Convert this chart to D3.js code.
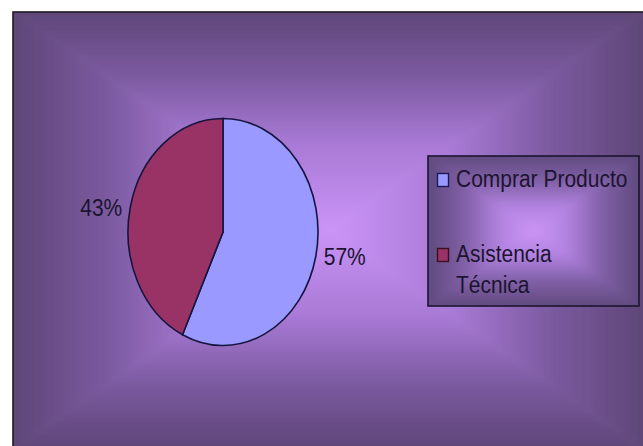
<!DOCTYPE html>
<html>
<head>
<meta charset="utf-8">
<script src="https://cdn.jsdelivr.net/npm/d3@7/dist/d3.min.js"></script>
<style>
  html, body { margin: 0; padding: 0; background: #ffffff; }
  svg { display: block; }
  text { font-family: "Liberation Sans", Arial, sans-serif; fill: #1c1430; }
</style>
</head>
<body>
<svg id="chart" width="643" height="446"></svg>
<script>
// Share of requests by type
const categories = ["Comprar Producto", "Asistencia Técnica"];
const values = [57, 43];
const colors = ["#9999ff", "#993366"];
const outlineColors = ["#1a1a5a", "#3a1020"];

const W = 643, H = 446;
const svg = d3.select("#chart");
const defs = svg.append("defs");

// Rectangular "from centre" gradient: four triangles, each shaded from its edge to the middle
function rectGradient(g, id, x0, y0, x1, y1, stops) {
  const cx = (x0 + x1) / 2, cy = (y0 + y1) / 2;
  const sides = [
    { name: "t", pts: [[x0, y0], [x1, y0], [cx, cy]], from: [cx, y0], to: [cx, cy] },
    { name: "b", pts: [[x0, y1], [x1, y1], [cx, cy]], from: [cx, y1], to: [cx, cy] },
    { name: "l", pts: [[x0, y0], [x0, y1], [cx, cy]], from: [x0, cy], to: [cx, cy] },
    { name: "r", pts: [[x1, y0], [x1, y1], [cx, cy]], from: [x1, cy], to: [cx, cy] }
  ];
  sides.forEach(s => {
    const lg = defs.append("linearGradient")
      .attr("id", id + s.name)
      .attr("gradientUnits", "userSpaceOnUse")
      .attr("x1", s.from[0]).attr("y1", s.from[1])
      .attr("x2", s.to[0]).attr("y2", s.to[1]);
    stops.forEach(st => lg.append("stop").attr("offset", st[0]).attr("stop-color", st[1]));
    g.append("path")
      .attr("d", d3.line()(s.pts) + "Z")
      .attr("fill", `url(#${id + s.name})`)
      .attr("stroke", `url(#${id + s.name})`)
      .attr("stroke-width", 0.6);
  });
}

const soft = defs.append("filter").attr("id", "soft")
  .attr("x", "-5%").attr("y", "-5%").attr("width", "110%").attr("height", "110%");
soft.append("feGaussianBlur").attr("stdDeviation", 3);

// Chart area, clipped so the blur does not spill past its border
const area = { x0: 13, y0: 12, x1: 645, y1: 448 };
defs.append("clipPath").attr("id", "areaClip")
  .append("rect").attr("x", area.x0).attr("y", area.y0)
  .attr("width", area.x1 - area.x0).attr("height", area.y1 - area.y0);
const bg = svg.append("g").attr("clip-path", "url(#areaClip)")
  .append("g").attr("filter", "url(#soft)");
rectGradient(bg, "bgGrad", area.x0 - 6, area.y0 - 6, area.x1 + 6, area.y1 + 6, [
  [0, "#5c4575"], [0.3, "#7a599e"], [0.62, "#a97ad6"], [1, "#ca94f7"]
]);
svg.append("rect")
  .attr("x", area.x0).attr("y", area.y0)
  .attr("width", area.x1 - area.x0).attr("height", area.y1 - area.y0)
  .attr("fill", "none").attr("stroke", "#1e1a24").attr("stroke-width", 1.6);

// Pie (elliptical)
const cx = 223, cy = 232, rx = 95, ry = 113.5;
const pie = d3.pie().sort(null).value(d => d)(values);
const arc = d3.arc().innerRadius(0).outerRadius(rx);
const pieG = svg.append("g")
  .attr("transform", `translate(${cx},${cy}) scale(1,${ry / rx})`);
pieG.selectAll("path.slice")
  .data(pie)
  .join("path")
  .attr("class", "slice")
  .attr("d", arc)
  .attr("fill", (d, i) => colors[i])
  .attr("stroke", "#151540")
  .attr("stroke-width", 1.6)
  .attr("vector-effect", "non-scaling-stroke");

// Percentage labels outside each slice
const fontSize = 21, stretch = 1.15;
const total = d3.sum(values);
svg.selectAll("text.pct")
  .data(pie)
  .join("text")
  .attr("class", "pct")
  .attr("font-size", fontSize)
  .attr("text-anchor", d => Math.sin((d.startAngle + d.endAngle) / 2) >= 0 ? "start" : "end")
  .attr("transform", d => {
    const a = (d.startAngle + d.endAngle) / 2;
    const px = cx + rx * Math.sin(a) + (Math.sin(a) >= 0 ? 8 : -8);
    const py = cy - ry * Math.cos(a) + 0.36 * fontSize * stretch;
    return `translate(${px},${py}) scale(1,${stretch})`;
  })
  .text(d => Math.round(d.value / total * 100) + "%");

// Legend
const lg = { x0: 428, y0: 156, x1: 639, y1: 306 };
defs.append("clipPath").attr("id", "legClip")
  .append("rect").attr("x", lg.x0).attr("y", lg.y0)
  .attr("width", lg.x1 - lg.x0).attr("height", lg.y1 - lg.y0);
const legG = svg.append("g").attr("clip-path", "url(#legClip)")
  .append("g").attr("filter", "url(#soft)");
rectGradient(legG, "legGrad", lg.x0 - 4, lg.y0 - 4, lg.x1 + 4, lg.y1 + 4, [
  [0, "#5c4879"], [0.35, "#7e5ea4"], [0.7, "#b283e0"], [1, "#cc95f6"]
]);
svg.append("rect")
  .attr("x", lg.x0).attr("y", lg.y0)
  .attr("width", lg.x1 - lg.x0).attr("height", lg.y1 - lg.y0)
  .attr("fill", "none").attr("stroke", "#1c1430").attr("stroke-width", 1.6);

// Legend entries, wrapped to the legend's text width
const textX = 456, maxW = 173;
const entryBase = [31, 106], lineGap = 31;
const entries = svg.selectAll("g.entry")
  .data(categories)
  .join("g")
  .attr("class", "entry")
  .attr("transform", (d, i) => `translate(0,${lg.y0 + entryBase[i]})`);

entries.append("rect")
  .attr("x", 437.5).attr("y", -13.5)
  .attr("width", 11).attr("height", 13)
  .attr("fill", (d, i) => colors[i])
  .attr("stroke", (d, i) => outlineColors[i])
  .attr("stroke-width", 1.4);

entries.each(function (label) {
  const g = d3.select(this);
  const words = label.split(" ");
  let line = [], lineNo = 0;
  let t = g.append("text").attr("font-size", fontSize)
    .attr("transform", `translate(${textX},0) scale(1,${stretch})`);
  words.forEach(w => {
    line.push(w);
    t.text(line.join(" "));
    if (t.node().getComputedTextLength() > maxW && line.length > 1) {
      line.pop();
      t.text(line.join(" "));
      line = [w];
      lineNo++;
      t = g.append("text").attr("font-size", fontSize)
        .attr("transform", `translate(${textX},${lineNo * lineGap}) scale(1,${stretch})`)
        .text(w);
    }
  });
});
</script>
</body>
</html>
